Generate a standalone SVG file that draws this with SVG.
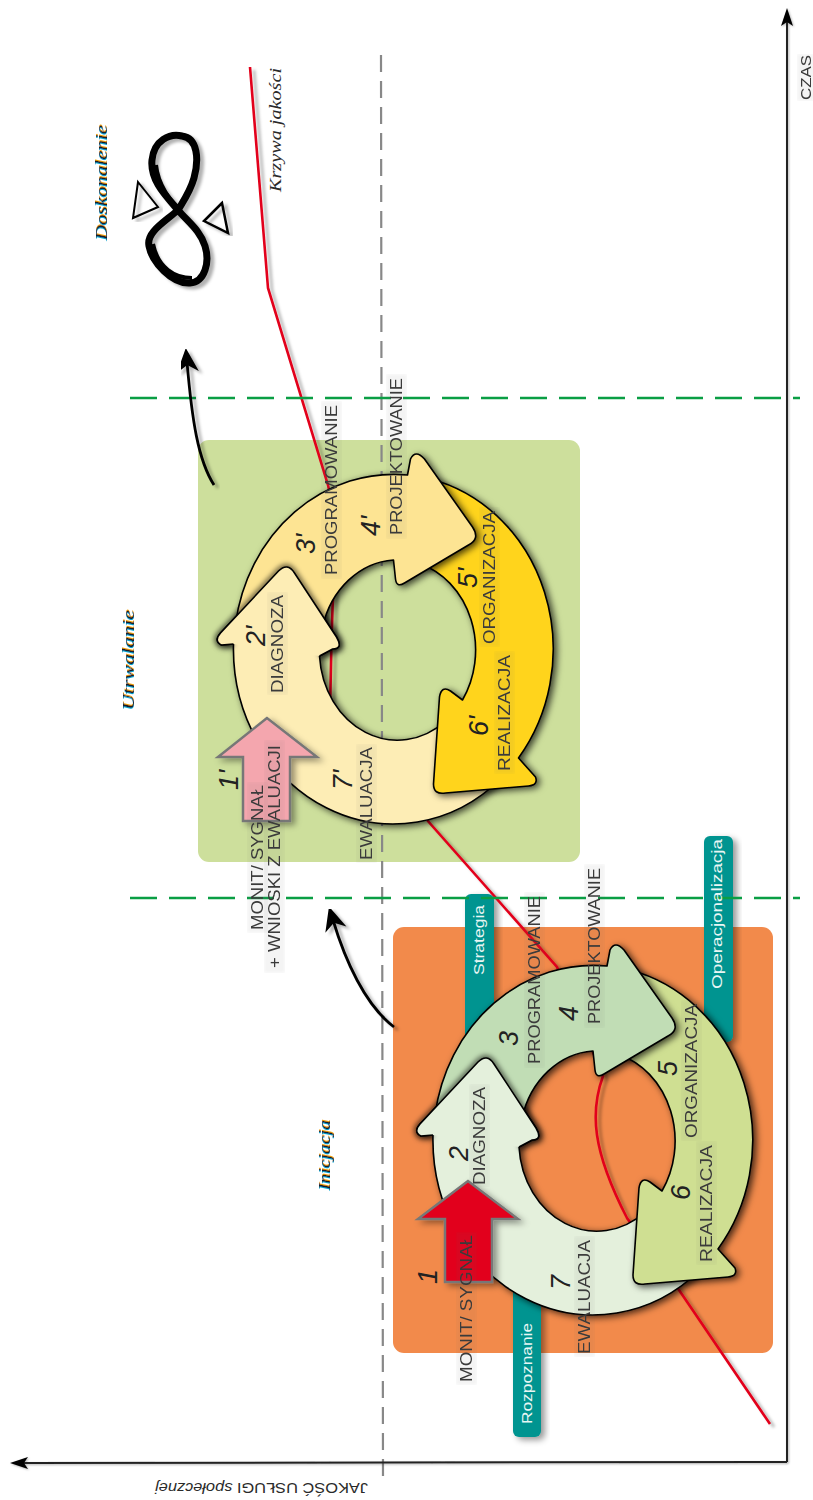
<svg xmlns="http://www.w3.org/2000/svg" xmlns:xlink="http://www.w3.org/1999/xlink" width="813" height="1500" viewBox="0 0 813 1500">
<style>
.t{font-family:"Liberation Sans",Arial,sans-serif;font-size:17px;fill:#3a3a3a;filter:url(#band)}
.n{font-family:"Liberation Sans",Arial,sans-serif;font-size:27px;font-style:italic;fill:#222}
.w{font-family:"Liberation Sans",Arial,sans-serif;font-size:15px;fill:#e8f6f4}
.s{font-family:"Liberation Serif",serif;font-style:italic;font-size:16px;fill:#2a2a2a}
.f{font-family:"Liberation Serif",serif;font-style:italic;font-size:17px;fill:#1c1c2a;filter:url(#fringe)}
.seg{stroke:#000;stroke-width:1.6;stroke-linejoin:round;filter:url(#sh)}
.bar{fill:#009490;filter:url(#shBar)}
.sig{stroke:#777;stroke-width:2.5;stroke-linejoin:miter;filter:url(#shBar)}
.red{fill:none;stroke:#e2001a;stroke-width:2.6;filter:url(#shLine)}
.gd{stroke:#0a9e44;stroke-width:2.5;stroke-dasharray:27 12;fill:none}
.cur{fill:none;stroke:#000;stroke-width:2.8;filter:url(#shLine)}
.ax{fill:none;stroke:#222;stroke-width:2;filter:url(#shAx)}
</style>
<defs>
<filter id="sh" x="-25%" y="-25%" width="150%" height="150%"><feDropShadow dx="3" dy="2" stdDeviation="3.5" flood-color="#000" flood-opacity=".72"/></filter>
<filter id="shBar" x="-30%" y="-15%" width="160%" height="130%"><feDropShadow dx="4" dy="3" stdDeviation="3" flood-color="#000" flood-opacity=".4"/></filter>
<filter id="shLine" x="-20%" y="-10%" width="140%" height="120%"><feDropShadow dx="4" dy="3" stdDeviation="1.6" flood-color="#000" flood-opacity=".3"/></filter>
<filter id="shAx" filterUnits="userSpaceOnUse" x="0" y="0" width="813" height="1500"><feDropShadow dx="1" dy="1" stdDeviation=".8" flood-color="#000" flood-opacity=".3"/></filter>
<filter id="blur" x="-30%" y="-30%" width="160%" height="160%"><feGaussianBlur stdDeviation="2.5"/></filter>
<filter id="band" x="-2%" y="-5%" width="104%" height="110%"><feFlood flood-color="#666" flood-opacity=".07"/><feGaussianBlur stdDeviation="1.5"/><feMerge><feMergeNode/><feMergeNode in="SourceGraphic"/></feMerge></filter>
<filter id="fringe" x="-5%" y="-25%" width="110%" height="150%">
<feOffset in="SourceAlpha" dx="1.2" dy="0" result="a"/><feFlood flood-color="#f2a000"/><feComposite in2="a" operator="in" result="or"/>
<feOffset in="SourceAlpha" dx="-1.2" dy="0" result="b"/><feFlood flood-color="#00a6d6"/><feComposite in2="b" operator="in" result="bl"/>
<feMerge><feMergeNode in="or"/><feMergeNode in="bl"/><feMergeNode in="SourceGraphic"/></feMerge></filter>
<marker id="ah" markerUnits="userSpaceOnUse" markerWidth="22" markerHeight="16" refX="6" refY="7" orient="auto"><path d="M20 7 L2 1 L6 7 L2 13 Z" fill="#000"/></marker>
<marker id="ah2" markerUnits="userSpaceOnUse" markerWidth="30" markerHeight="28" refX="12" refY="13" orient="auto"><path d="M26 13 L2 2 L9 13 L2 24 Z" fill="#000"/></marker>
<path id="segA" d="M700 1270 A160 175 0 0 1 433 1135 L421 1136 Q413 1132 420 1124 L478 1062 Q487 1053 494 1064 L536 1128 Q543 1140 532 1140 L519 1147 A78 90 0 0 0 645 1212 Z"/>
<path id="segB" d="M435 1115 A160 175 0 0 1 607 966 L610 950 Q615 940 624 950 L672 1018 Q680 1030 668 1036 L604 1074 Q596 1079 595 1070 L593 1051 A78 90 0 0 0 522 1118 Z"/>
<path id="segC" d="M630 970 A160 175 0 0 1 718 1249 L735 1268 Q738 1276 728 1277 L645 1284 Q633 1286 633 1275 L639 1188 Q641 1176 650 1182 L662 1191 A78 90 0 0 0 620 1055 Z"/>
<path id="headFill" d="M433 1135 L421 1136 Q413 1132 420 1124 L478 1062 Q487 1053 494 1064 L536 1128 Q543 1140 532 1140 L519 1147 Z"/>
<path id="headLine" d="M433 1135 L421 1136 Q413 1132 420 1124 L478 1062 Q487 1053 494 1064 L536 1128 Q543 1140 532 1140 L519 1147" fill="none"/>
</defs>
<rect width="813" height="1500" fill="#fff"/>

<g id="phase-backgrounds">
<rect id="panel-utrwalanie" x="198" y="440" width="382" height="422" rx="11" fill="#cddf9c"/>
<rect id="panel-inicjacja" x="393" y="927" width="380" height="426" rx="11" fill="#f28a4b"/>
</g>
<g id="bars">
<g id="bar-strategia"><rect class="bar" x="465" y="894" width="29" height="160" rx="6"/></g>
<g id="bar-operacjonalizacja"><rect class="bar" x="704" y="836" width="29" height="206" rx="6"/></g>
<g id="bar-rozpoznanie"><rect class="bar" x="513" y="1260" width="28" height="177" rx="6"/></g>
</g>

<g id="connectors">
<path class="red" d="M250 67 L268 288 L328 485 C334 510 334 570 333 598 C331 640 331 680 330 707 L427 820 L557 967 L603 1076 C590 1112 592 1150 627 1218 L677 1287 L770 1424"/>
<line x1="381" y1="55" x2="383" y2="1480" stroke="#888" stroke-width="2.2" stroke-dasharray="17 9"/>
<line class="gd" x1="130" y1="398" x2="800" y2="398"/>
<line class="gd" x1="130" y1="898" x2="800" y2="898"/>
<path class="ax" d="M787 1462 L787 22" marker-end="url(#ah)"/>
<path class="ax" d="M787 1462 L24 1463" marker-end="url(#ah)"/>
<path class="cur" d="M214 485 C198 460 192 420 187 362" marker-end="url(#ah2)"/>
<path class="cur" d="M394 1027 C365 1005 345 960 333 920" marker-end="url(#ah2)"/>
</g>

<g id="cycle-inicjacja">
<g id="seg-2-7"><use href="#segA" class="seg" fill="#e4f0dc"/></g>
<g id="seg-5-6"><use href="#segC" class="seg" fill="#cfdf92"/></g>
<g id="seg-3-4"><use href="#segB" class="seg" fill="#c1ddb5"/></g>
<g id="seg-2-head"><use href="#headLine" stroke="#000" stroke-opacity=".55" stroke-width="6" filter="url(#blur)"/><use href="#headFill" fill="#e4f0dc"/><use href="#headLine" stroke="#000" stroke-width="1.6"/></g>
<g id="signal-1"><polygon class="sig" points="468,1181 418,1219 445,1219 445,1282 492,1282 492,1219 518,1219" fill="#e2001a"/></g>
</g>

<g id="cycle-utrwalanie" transform="translate(-199.5 -491)">
<g id="seg-2p-7p"><use href="#segA" class="seg" fill="#fdedb5"/></g>
<g id="seg-5p-6p"><use href="#segC" class="seg" fill="#ffd41f"/></g>
<g id="seg-3p-4p"><use href="#segB" class="seg" fill="#fde493"/></g>
<g id="seg-2p-head"><use href="#headLine" stroke="#000" stroke-opacity=".55" stroke-width="6" filter="url(#blur)"/><use href="#headFill" fill="#fdedb5"/><use href="#headLine" stroke="#000" stroke-width="1.6"/></g>
<g id="signal-1p"><polygon class="sig" points="466.5,1209 417.5,1248 442.5,1248 442.5,1312 489.5,1312 489.5,1248 516.5,1248" fill="#f4a6ae"/></g>
</g>

<g id="labels-inicjacja">
<text class="n" transform="translate(437 1284) rotate(-90)">1</text>
<text class="t" transform="translate(472 1382) rotate(-90)" textLength="147" lengthAdjust="spacingAndGlyphs">MONIT/ SYGNAŁ</text>
<text class="n" transform="translate(468 1161) rotate(-90)">2</text>
<text class="t" transform="translate(485 1185) rotate(-90)" textLength="98" lengthAdjust="spacingAndGlyphs">DIAGNOZA</text>
<text class="n" transform="translate(518 1046) rotate(-90)">3</text>
<text class="t" transform="translate(540 1064) rotate(-90)" textLength="168" lengthAdjust="spacingAndGlyphs">PROGRAMOWANIE</text>
<text class="n" transform="translate(578 1021) rotate(-90)">4</text>
<text class="t" transform="translate(600 1024) rotate(-90)" textLength="156" lengthAdjust="spacingAndGlyphs">PROJEKTOWANIE</text>
<text class="n" transform="translate(677 1076) rotate(-90)">5</text>
<text class="t" transform="translate(697 1138) rotate(-90)" textLength="134" lengthAdjust="spacingAndGlyphs">ORGANIZACJA</text>
<text class="n" transform="translate(690 1200) rotate(-90)">6</text>
<text class="t" transform="translate(712 1262) rotate(-90)" textLength="117" lengthAdjust="spacingAndGlyphs">REALIZACJA</text>
<text class="n" transform="translate(570 1290) rotate(-90)">7</text>
<text class="t" transform="translate(590 1354) rotate(-90)" textLength="114" lengthAdjust="spacingAndGlyphs">EWALUACJA</text>
</g>
<g id="labels-utrwalanie">
<text class="n" transform="translate(238 790) rotate(-90)">1'</text>
<text class="t" transform="translate(263 930) rotate(-90)" textLength="145" lengthAdjust="spacingAndGlyphs">MONIT/ SYGNAŁ</text>
<text class="t" transform="translate(280 968) rotate(-90)" textLength="223" lengthAdjust="spacingAndGlyphs">+ WNIOSKI Z EWALUACJI</text>
<text class="n" transform="translate(265 646) rotate(-90)">2'</text>
<text class="t" transform="translate(283 693) rotate(-90)" textLength="98" lengthAdjust="spacingAndGlyphs">DIAGNOZA</text>
<text class="n" transform="translate(315 554) rotate(-90)">3'</text>
<text class="t" transform="translate(337 575) rotate(-90)" textLength="170" lengthAdjust="spacingAndGlyphs">PROGRAMOWANIE</text>
<text class="n" transform="translate(380 536) rotate(-90)">4'</text>
<text class="t" transform="translate(402 535) rotate(-90)" textLength="157" lengthAdjust="spacingAndGlyphs">PROJEKTOWANIE</text>
<text class="n" transform="translate(477 588) rotate(-90)">5'</text>
<text class="t" transform="translate(495 644) rotate(-90)" textLength="133" lengthAdjust="spacingAndGlyphs">ORGANIZACJA</text>
<text class="n" transform="translate(488 736) rotate(-90)">6'</text>
<text class="t" transform="translate(510 771) rotate(-90)" textLength="116" lengthAdjust="spacingAndGlyphs">REALIZACJA</text>
<text class="n" transform="translate(352 790) rotate(-90)">7'</text>
<text class="t" transform="translate(372 860) rotate(-90)" textLength="113" lengthAdjust="spacingAndGlyphs">EWALUACJA</text>
</g>
<g id="bar-labels">
<text class="w" transform="translate(484 975) rotate(-90)" textLength="70" lengthAdjust="spacingAndGlyphs">Strategia</text>
<text class="w" transform="translate(722 989) rotate(-90)" textLength="150" lengthAdjust="spacingAndGlyphs">Operacjonalizacja</text>
<text class="w" transform="translate(532 1424) rotate(-90)" textLength="101" lengthAdjust="spacingAndGlyphs">Rozpoznanie</text>
</g>
<g id="side-labels">
<text class="f" transform="translate(107 240) rotate(-90)" textLength="115" lengthAdjust="spacingAndGlyphs">Doskonalenie</text>
<text class="f" transform="translate(134 710) rotate(-90)" textLength="100" lengthAdjust="spacingAndGlyphs">Utrwalanie</text>
<text class="f" transform="translate(330 1190) rotate(-90)" textLength="70" lengthAdjust="spacingAndGlyphs">Inicjacja</text>
<text class="s" transform="translate(281 192) rotate(-90)" textLength="124" lengthAdjust="spacingAndGlyphs">Krzywa jakości</text>
<text class="t" transform="translate(811 100) rotate(-90)" textLength="45" lengthAdjust="spacingAndGlyphs" style="font-size:14px">CZAS</text>
<text class="s" transform="translate(368 1483) rotate(180)" textLength="213" lengthAdjust="spacingAndGlyphs" style="font-size:15px;font-style:normal;font-family:'Liberation Sans',sans-serif">JAKOŚĆ USŁUGI <tspan style="font-style:italic">społecznej</tspan></text>
</g>
<g id="infinity-symbol">
<path d="M178 210 C165 195 150 180 152 160 C154 140 170 133 182 136 C198 138 199 160 194 178 C190 192 184 200 178 210 C165 222 146 232 149 246 C152 262 172 284 190 283 C205 282 210 262 205 246 C200 230 188 222 178 210 Z" fill="none" stroke="#000" stroke-width="7" filter="url(#shLine)"/>
<path d="M156 165 C158 185 170 200 182 214 M153 244 C158 268 175 278 192 278" fill="none" stroke="#000" stroke-width="4"/>
<polygon points="138,182 158,207 133,218" fill="none" stroke="#000" stroke-width="2" filter="url(#shLine)"/>
<polygon points="222,203 204,221 228,233" fill="none" stroke="#000" stroke-width="2.5" filter="url(#shLine)"/>
</g>
</svg>
